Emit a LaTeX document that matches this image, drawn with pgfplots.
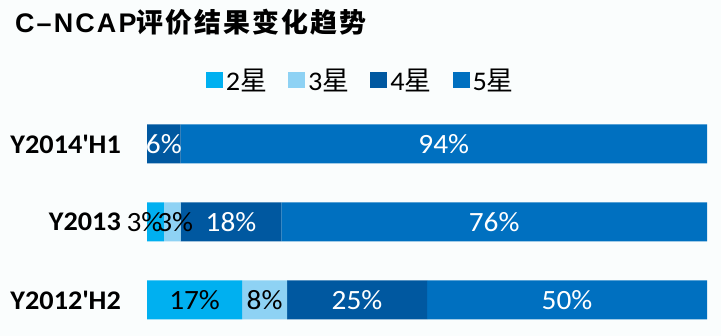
\documentclass[border=0pt]{standalone}
\usepackage{pgfplots}
\pgfplotsset{compat=1.18}
\usepackage{pgfplotstable}
\usepackage{fontspec}
\setmainfont{Carlito}[FakeStretch=1.05]
\newfontfamily\cjk{Noto Sans CJK SC}
\newfontfamily\arial{Liberation Sans}
\definecolor{bg}{RGB}{250,253,253}
\definecolor{cA}{RGB}{0,176,240}
\definecolor{cB}{RGB}{142,210,244}
\definecolor{cC}{RGB}{0,88,160}
\definecolor{cD}{RGB}{0,112,192}

% y: 0 = Y2012'H2, 1 = Y2013, 2 = Y2014'H1
\pgfplotstableread{
y x lab dx
0 17 {17\%} 0
1 3 {3\%} -11
2 0 {} 0
}\tA
\pgfplotstableread{
y x lab dx
0 8 {8\%} 0
1 3 {3\%} 3
2 0 {} 0
}\tB
\pgfplotstableread{
y x lab dx
0 25 {25\%} 0
1 18 {18\%} 0
2 6 {6\%} 0
}\tC
\pgfplotstableread{
y x lab dx
0 50 {50\%} 0
1 76 {76\%} 0
2 94 {94\%} 0
}\tD

\begin{document}
\begin{tikzpicture}
\fill[bg] (0,0) rectangle (721bp,336bp);
\useasboundingbox (0,0) rectangle (721bp,336bp);
\node[anchor=base west, inner sep=0pt] at (15bp,303bp)
  {\fontsize{27}{27}\selectfont{\arial\bfseries\addfontfeatures{LetterSpace=8}C–NCAP}{\cjk\bfseries\addfontfeatures{LetterSpace=8}评价结果变化趋势}};
\begin{axis}[
  at={(147bp,0.9bp)}, anchor=south west,
  scale only axis,
  x=5.6bp, y=78bp,
  xmin=0, xmax=100, ymin=-0.45, ymax=2.5,
  xbar stacked, bar width=39bp,
  hide x axis,
  axis line style={draw=none},
  tick style={draw=none},
  major tick length=0pt,
  ytick={0,1,2},
  yticklabels={Y2012{\textquotesingle}H2, Y2013, Y2014{\textquotesingle}H1},
  yticklabel style={font=\fontsize{27}{27}\selectfont\bfseries, text=black, inner sep=0pt, xshift=-26bp},
  every axis plot post/.append style={legend image code/.code={\fill[##1] (0bp,-8bp) rectangle (17bp,8bp);}},
  legend style={at={(0.381,1.108)}, anchor=center, draw=none, fill=none,
    legend columns=4, font=\fontsize{27}{27}\selectfont,
    nodes={inner sep=1bp},
    /tikz/every odd column/.append style={column sep=2bp},
    /tikz/every even column/.append style={column sep=20bp}},
  point meta=explicit symbolic,
  nodes near coords,
  visualization depends on={\thisrow{dx} \as \dx},
  every node near coord/.append style={anchor=center, font=\fontsize{28}{28}\selectfont, xshift={\dx*1bp}},
]
\addplot[fill=cA, draw=none, every node near coord/.append style={text=black}] table[x=x, y=y, meta=lab] {\tA};
\addlegendentry{2{\cjk 星}}
\addplot[fill=cB, draw=none, every node near coord/.append style={text=black}] table[x=x, y=y, meta=lab] {\tB};
\addlegendentry{3{\cjk 星}}
\addplot[fill=cC, draw=none, every node near coord/.append style={text=white}] table[x=x, y=y, meta=lab] {\tC};
\addlegendentry{4{\cjk 星}}
\addplot[fill=cD, draw=none, every node near coord/.append style={text=white}] table[x=x, y=y, meta=lab] {\tD};
\addlegendentry{5{\cjk 星}}
\end{axis}
\end{tikzpicture}
\end{document}
